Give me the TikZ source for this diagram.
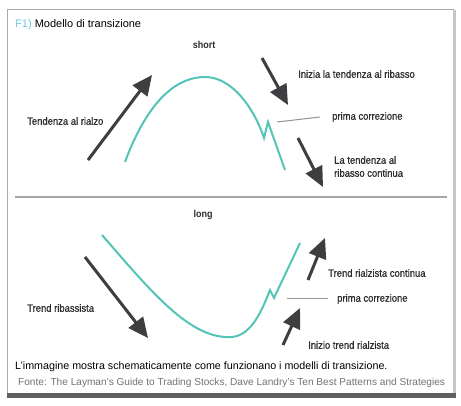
\documentclass[tikz,border=0pt]{standalone}
\usepackage{fontspec}
\setmainfont{Liberation Sans}
\newfontfamily\labfont[FakeStretch=0.9,FakeBold=0.8]{Liberation Sans}
\newfontfamily\headfont[FakeStretch=0.9]{Liberation Sans}
\usetikzlibrary{arrows.meta}
\definecolor{teal1}{RGB}{84,196,182}
\definecolor{arrowc}{RGB}{62,62,64}
\definecolor{labc}{RGB}{45,45,48}
\definecolor{fcyan}{RGB}{112,200,222}
\definecolor{framec}{RGB}{150,150,150}
\tikzset{
  bigarrow/.style={draw=arrowc, line width=3pt, -{Triangle[length=20pt,width=18pt]}, arrowc},
  curve/.style={draw=teal1, line width=2pt, line join=miter},
  glabel/.style={anchor=west, inner sep=0pt, text=labc, font=\labfont\fontsize{10.5}{13}\selectfont},
  hlabel/.style={anchor=center, inner sep=0pt, text=labc, font=\headfont\bfseries\fontsize{10}{12}\selectfont},
  pointer/.style={draw=gray!85, line width=1pt},
}
\begin{document}
\begin{tikzpicture}[x=1pt,y=-1pt]
\useasboundingbox (0,0) rectangle (461,406);
\fill[white] (0,0) rectangle (461,406);
% frame
\draw[framec!80, line width=1pt] (7,396) -- (7,10) -- (454,10);
\fill[gray!45] (453,10) rectangle (456,396);
\fill[gray!75!black] (7,393) rectangle (456,398);
% title
\node[anchor=west, inner sep=0pt, font=\fontsize{11}{13}\selectfont] (title) at (15,25) {\textcolor{fcyan}{F1)} Modello di transizione};
% divider
\draw[gray!70, line width=1.3pt] (15,197) -- (447,197);
% headers
\node[hlabel] (short) at (204,45) {short};
\node[hlabel] (long) at (203,215) {long};
% short curve
\coordinate (s0) at (125,162);
\coordinate (s1) at (205,77);
\coordinate (s2) at (264,138);
\coordinate (s3) at (268,122);
\coordinate (s4) at (285,170);
\draw[curve] (s0) .. controls (150,95) and (180,77) .. (s1) .. controls (232,77) and (254,108) .. (s2) -- (s3) -- (s4);
% long curve
\coordinate (l0) at (102,235);
\coordinate (l1) at (232,337);
\coordinate (l2) at (270,290);
\coordinate (l3) at (274,298);
\coordinate (l4) at (300,243);
\draw[curve] (l0) .. controls (150,290) and (190,340) .. (l1) .. controls (252,335) and (262,310) .. (l2) -- (l3) -- (l4);
% arrows short
\coordinate (a1s) at (88,160); \coordinate (a1e) at (152,75);
\draw[bigarrow] (a1s) -- (a1e);
\coordinate (a2s) at (262,58); \coordinate (a2e) at (288,105);
\draw[bigarrow] (a2s) -- (a2e);
\coordinate (a3s) at (298,138); \coordinate (a3e) at (323,187);
\draw[bigarrow] (a3s) -- (a3e);
% arrows long
\coordinate (a4s) at (85,257); \coordinate (a4e) at (148,338);
\draw[bigarrow] (a4s) -- (a4e);
\coordinate (a5s) at (308,280); \coordinate (a5e) at (325,238);
\draw[bigarrow] (a5s) -- (a5e);
\coordinate (a6s) at (283,345); \coordinate (a6e) at (300,308);
\draw[bigarrow] (a6s) -- (a6e);
% labels short
\node[glabel] (rialzo) at (27,121) {Tendenza al rialzo};
\node[glabel] (inizia) at (298,74) {Inizia la tendenza al ribasso};
\node[glabel] (pc1) at (332,117) {prima correzione};
\node[glabel, align=left] (continua) at (334,166.5) {La tendenza al\\ribasso continua};
\coordinate (p1a) at (277,122); \coordinate (p1b) at (320,117);
\draw[pointer] (p1a) -- (p1b);
% labels long
\node[glabel] (ribassista) at (27,308) {Trend ribassista};
\node[glabel] (rcont) at (328,273) {Trend rialzista continua};
\node[glabel] (pc2) at (337,299) {prima correzione};
\node[glabel] (inizio) at (308,345) {Inizio trend rialzista};
\coordinate (p2a) at (287,299); \coordinate (p2b) at (328,299);
\draw[pointer] (p2a) -- (p2b);
% caption
\node[anchor=west, inner sep=0pt, font=\fontsize{10.7}{12}\selectfont] (cap) at (15,367) {L’immagine mostra schematicamente come funzionano i modelli di transizione.};
\node[anchor=west, inner sep=0pt, text=gray!90!black, font=\fontsize{10.1}{12}\selectfont] (fonte) at (18,383) {Fonte: The Layman’s Guide to Trading Stocks, Dave Landry’s Ten Best Patterns and Strategies};
\end{tikzpicture}
\end{document}
